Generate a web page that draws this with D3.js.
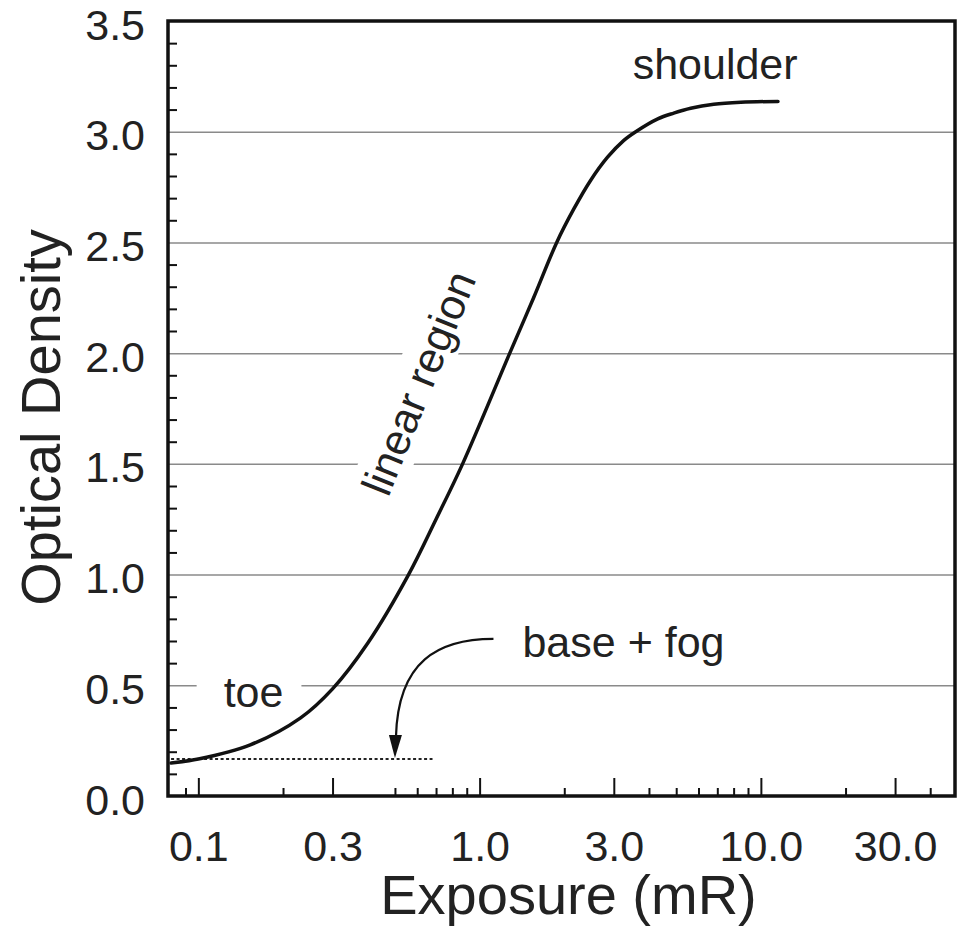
<!DOCTYPE html>
<html>
<head>
<meta charset="utf-8">
<script src="https://cdn.jsdelivr.net/npm/d3@7"></script>
<style>
  body { margin: 0; background: #fff; }
  svg { display: block; font-family: 'Liberation Sans', Arial, Helvetica, sans-serif; }
  .grid line { stroke: #8a8a8a; stroke-width: 1.5; }
  .axis line { stroke: #111; stroke-width: 2; }
  .axis text { fill: #222; font-size: 43px; }
  .note { fill: #222; font-size: 43px; }
  .title { fill: #222; font-size: 56px; }
</style>
</head>
<body>
<svg id="chart"></svg>
<script>
// characteristic (H&D) curve
const exposure = [0.08, 0.1, 0.153, 0.231, 0.3, 0.4, 0.559, 0.7, 0.87, 1.28, 1.556, 1.88, 2.16, 2.48, 2.85, 3.25, 3.59, 4.3, 4.9, 5.63, 6.8, 8.49, 11.5];
const density = [0.149, 0.167, 0.231, 0.353, 0.484, 0.69, 1.0, 1.25, 1.5, 2.0, 2.25, 2.5, 2.65, 2.78, 2.885, 2.96, 3.0, 3.058, 3.084, 3.106, 3.124, 3.133, 3.137];

const xTicks = [0.1, 0.3, 1, 3, 10, 30];
const xMinorTicks = [0.09, 0.2, 0.5, 0.6, 0.7, 0.8, 0.9, 2, 4, 5, 6, 7, 8, 9, 20, 40];
const yTicks = [0, 0.5, 1, 1.5, 2, 2.5, 3, 3.5];
const gridTicks = [0.5, 1, 1.5, 2, 2.5, 3];

const baseFog = 0.167;
const baseFogRange = [0.08, 0.68];

const xDomain = [0.078, 49];
const yDomain = [0, 3.5];

const xTitle = 'Exposure (mR)';
const yTitle = 'Optical Density';
const noteToe = 'toe';
const noteLinear = 'linear region';
const noteShoulder = 'shoulder';
const noteFog = 'base + fog';

function drawChart() {
  const w = 961;
  const h = 937;
  const margin = { top: 21, right: 6, bottom: 141, left: 168 };
  const svg = d3.select('#chart').attr('width', w).attr('height', h);

  const x = d3.scaleLog().domain(xDomain).range([margin.left, w - margin.right]);
  const y = d3.scaleLinear().domain(yDomain).range([h - margin.bottom, margin.top]);
  const x0 = margin.left;
  const x1 = w - margin.right;
  const y0 = h - margin.bottom;
  const y1 = margin.top;

  // horizontal gridlines
  svg.append('g')
    .attr('class', 'grid')
    .attr('transform', `translate(${x0},0)`)
    .call(d3.axisLeft(y).tickValues(gridTicks).tickSize(-(x1 - x0)))
    .call(g => g.select('.domain').remove())
    .call(g => g.selectAll('text').remove());

  // labels with a white patch behind them (they cut the gridlines)
  function label(px, py, angle, text, pad) {
    const g = svg.append('g').attr('transform', `translate(${px},${py}) rotate(${angle})`);
    const bg = g.append('rect').attr('fill', '#fff');
    const t = g.append('text').attr('class', 'note').attr('text-anchor', angle ? 'middle' : 'start').text(text);
    if (pad) {
      const b = t.node().getBBox();
      bg.attr('x', b.x - pad[0]).attr('y', b.y - pad[2])
        .attr('width', b.width + pad[0] + pad[1]).attr('height', b.height + pad[2] * 2);
    }
    return g;
  }

  label(x(0.123), y(0.40), 0, noteToe, [27, 18, 0]);
  label(x(0.68), y(1.84), -68, noteLinear, [4, 4, 2]);
  label(x(3.5), y(3.24), 0, noteShoulder, null);
  label(x(1.42), y(0.63), 0, noteFog, null);

  // base + fog level
  svg.append('line')
    .attr('x1', x(baseFogRange[0])).attr('x2', x(baseFogRange[1]))
    .attr('y1', y(baseFog)).attr('y2', y(baseFog))
    .attr('stroke', '#222').attr('stroke-width', 2.2)
    .attr('stroke-dasharray', '3,2.5');

  // curve
  const points = exposure.map((e, i) => [e, density[i]]);
  const line = d3.line()
    .x(d => x(d[0]))
    .y(d => y(d[1]))
    .curve(d3.curveCatmullRom.alpha(0.5));

  svg.append('path')
    .datum(points)
    .attr('d', line)
    .attr('fill', 'none')
    .attr('stroke', '#111')
    .attr('stroke-width', 3.5)
    .attr('stroke-linecap', 'round');

  // arrow from the base + fog note down to the fog level
  const sx = x(1.12), sy = y(0.71);
  const tx = x(0.5), ty = y(baseFog);
  const p = d3.path();
  p.moveTo(sx, sy);
  p.bezierCurveTo(sx - 55, sy, tx + 3, sy + 22, tx + 1, ty - 22);
  svg.append('path')
    .attr('d', p.toString())
    .attr('fill', 'none')
    .attr('stroke', '#111')
    .attr('stroke-width', 2.2);
  svg.append('path')
    .attr('d', `M${tx - 6},${ty - 24}L${tx + 7},${ty - 24}L${tx},${ty - 1}Z`)
    .attr('fill', '#111');

  // ticks
  svg.append('g')
    .attr('class', 'axis')
    .attr('transform', `translate(0,${y0})`)
    .call(d3.axisBottom(x).tickValues(xMinorTicks).tickSize(-8))
    .call(g => g.select('.domain').remove())
    .call(g => g.selectAll('text').remove());

  const ax = svg.append('g')
    .attr('class', 'axis')
    .attr('transform', `translate(0,${y0})`)
    .call(d3.axisBottom(x).tickValues(xTicks).tickSize(-18).tickPadding(34).tickFormat(d3.format('.1f')));
  ax.select('.domain').remove();
  ax.attr('font-size', null).attr('font-family', null);

  const yMinor = d3.range(1, 35).map(i => i / 10).filter(v => Math.round(v * 10) % 5 !== 0);
  svg.append('g')
    .attr('class', 'axis')
    .attr('transform', `translate(${x0},0)`)
    .call(d3.axisLeft(y).tickValues(yMinor).tickSize(-9))
    .call(g => g.select('.domain').remove())
    .call(g => g.selectAll('text').remove());

  const ay = svg.append('g')
    .attr('class', 'axis')
    .attr('transform', `translate(${x0},0)`)
    .call(d3.axisLeft(y).tickValues(yTicks).tickSize(0).tickPadding(23).tickFormat(d3.format('.1f')));
  ay.select('.domain').remove();
  ay.attr('font-size', null).attr('font-family', null);
  ay.selectAll('text').attr('dy', '0.42em');

  // frame
  svg.append('rect')
    .attr('x', x0).attr('y', y1)
    .attr('width', x1 - x0).attr('height', y0 - y1)
    .attr('fill', 'none')
    .attr('stroke', '#111')
    .attr('stroke-width', 3.5);

  // axis titles
  svg.append('text')
    .attr('class', 'title')
    .attr('text-anchor', 'middle')
    .attr('x', (x0 + x1) / 2 + 7)
    .attr('y', 914)
    .text(xTitle);

  svg.append('text')
    .attr('class', 'title')
    .attr('text-anchor', 'middle')
    .attr('transform', `translate(60,${(y0 + y1) / 2 + 9}) rotate(-90)`)
    .text(yTitle);
}

drawChart();
</script>
</body>
</html>
